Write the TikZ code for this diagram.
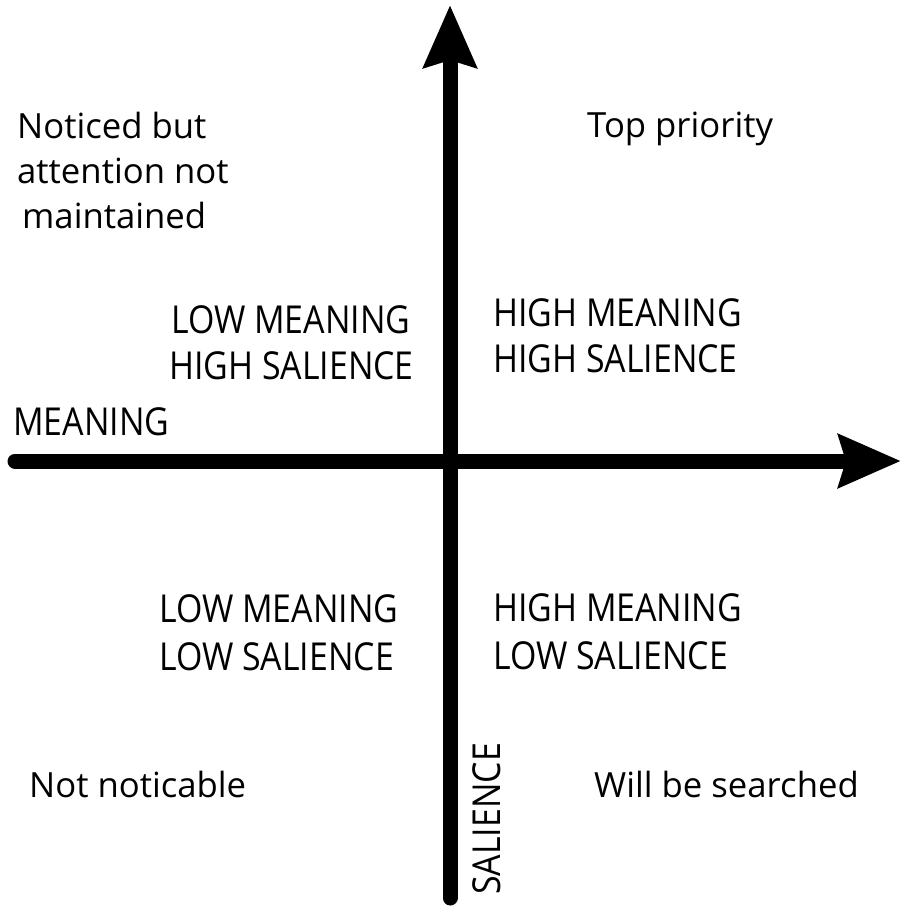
\documentclass[tikz,border=0pt]{standalone}
\usepackage{fontspec}
\setmainfont{Open Sans}
\newfontfamily\capsfont[FakeStretch=0.88]{Open Sans}
\usetikzlibrary{arrows.meta}
\tikzset{
  axis/.style={line width=15pt, line cap=round, -{Stealth[length=62pt,width=52pt,inset=7pt]}},
  big/.style={anchor=base west, inner sep=0pt, font=\capsfont\fontsize{38.5}{40}\selectfont},
  small/.style={anchor=base west, inner sep=0pt, font=\fontsize{34.7}{40}\selectfont},
}
\begin{document}
\begin{tikzpicture}[x=1pt,y=-1pt]
\useasboundingbox (0,0) rectangle (902,907);
% axes
\coordinate (vb) at (450,898);
\coordinate (vt) at (450,5);
\coordinate (hl) at (15,461);
\coordinate (hr) at (901,461);
\draw[axis] (vb) -- (vt);
\draw[axis] (hl) -- (hr);
% corner labels
\node[small] (n1) at (17,138) {Noticed but};
\node[small] (n2) at (17,183) {attention not};
\node[small] (n3) at (22,228) {maintained};
\node[small] (tp) at (587,137) {Top priority};
\node[small] (nn) at (29,797) {Not noticable};
\node[small] (ws) at (594,797) {Will be searched};
% quadrant labels
\node[big] (q1a) at (171,333) {LOW MEANING};
\node[big] (q1b) at (169,379) {HIGH SALIENCE};
\node[big] (q2a) at (493,326) {HIGH MEANING};
\node[big] (q2b) at (493,372) {HIGH SALIENCE};
\node[big] (q3a) at (159,622) {LOW MEANING};
\node[big] (q3b) at (159,670) {LOW SALIENCE};
\node[big] (q4a) at (493,621) {HIGH MEANING};
\node[big] (q4b) at (493,669) {LOW SALIENCE};
% axis labels
\node[big] (xl) at (13,435) {MEANING};
\node[big, rotate=90] (yl) at (500,895) {SALIENCE};
\end{tikzpicture}
\end{document}
